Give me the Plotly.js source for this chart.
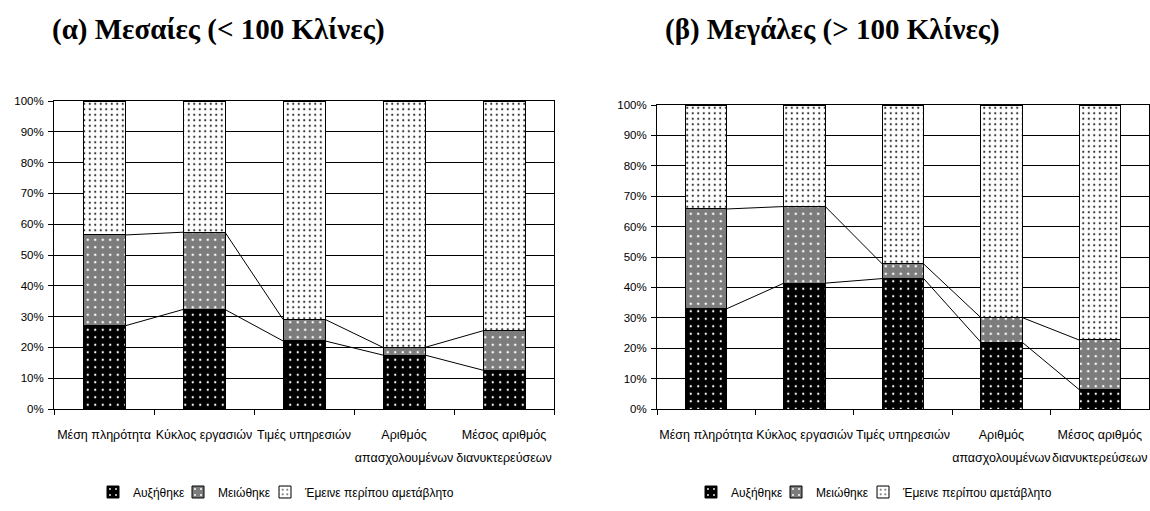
<!DOCTYPE html>
<html>
<head>
<meta charset="utf-8">
<script src="https://cdn.plot.ly/plotly-3.0.1.min.js"></script>
<style>
  html, body { margin: 0; padding: 0; background: #ffffff; }
  #chart { width: 1150px; height: 511px; }
</style>
</head>
<body>
<div id="chart"></div>
<script>
// Categories (shared by both panels)
const categories = [
  'Μέση πληρότητα',
  'Κύκλος εργασιών',
  'Τιμές υπηρεσιών',
  'Αριθμός<br>απασχολουμένων',
  'Μέσος αριθμός<br>διανυκτερεύσεων'
];

// Series names
const seriesNames = ['Αυξήθηκε', 'Μειώθηκε', 'Έμεινε περίπου αμετάβλητο'];

// (α) Medium hotels (< 100 beds), percent shares
const mediumIncreased = [27.0, 32.3, 22.1, 17.5, 12.6];
const mediumDecreased = [29.5, 25.1, 7.0, 2.5, 12.8];
const mediumUnchanged = [43.5, 42.6, 70.9, 80.0, 74.6];

// (β) Large hotels (> 100 beds), percent shares
const largeIncreased = [33.0, 41.4, 42.9, 22.0, 6.4];
const largeDecreased = [32.8, 25.2, 4.8, 8.1, 16.3];
const largeUnchanged = [34.2, 33.4, 52.3, 69.9, 77.3];

// Panel titles
const panelTitles = ['(α) Μεσαίες (< 100 Κλίνες)', '(β) Μεγάλες (> 100 Κλίνες)'];

// Fill styles for the three stacked segments
const fills = [
  { bg: '#000000', fg: '#ffffff', shape: '.', size: 7.5, solidity: 0.07 },
  { bg: '#7c7c7c', fg: '#ffffff', shape: '.', size: 7.5, solidity: 0.09 },
  { bg: '#ffffff', fg: '#333333', shape: '.', size: 5.5, solidity: 0.12 }
];

const BAR_WIDTH = 0.42;
const FONT = 'Liberation Sans, Arial, sans-serif';

// Page size and the plotting frame (bottom margin leaves room for the legends)
const W = 1150, H = 511, BOTTOM = 40;
const FH = H - BOTTOM;
const px = v => v / W;
const py = v => (FH - v) / FH;

// Left edge (px) of each legend entry, one entry per legend box
const legendLeft = [
  [93, 178, 265],    // panel (α)
  [691, 776, 863]    // panel (β)
];

function legendId(panel, k) {
  const n = panel * 3 + k + 1;
  return n === 1 ? 'legend' : 'legend' + n;
}

function barTraces(values, xa, ya, panel) {
  return values.map((vals, k) => ({
    type: 'bar',
    name: seriesNames[k],
    x: categories,
    y: vals,
    xaxis: xa,
    yaxis: ya,
    width: BAR_WIDTH,
    legend: legendId(panel, k),
    hoverinfo: 'skip',
    marker: {
      color: fills[k].bg,
      line: { color: '#000000', width: 1 },
      pattern: {
        shape: fills[k].shape,
        bgcolor: fills[k].bg,
        fgcolor: fills[k].fg,
        size: fills[k].size,
        solidity: fills[k].solidity,
        fillmode: 'replace'
      }
    }
  }));
}

// Series lines joining segment tops between neighbouring bars
function seriesLines(lower, middle, xa, ya) {
  const levels = [
    lower,
    lower.map((v, i) => v + middle[i])
  ];
  const half = BAR_WIDTH / 2;
  return levels.map(level => {
    const xs = [], ys = [];
    for (let i = 0; i < level.length - 1; i++) {
      xs.push(i + half, i + 1 - half, null);
      ys.push(level[i], level[i + 1], null);
    }
    return {
      type: 'scatter',
      mode: 'lines',
      x: xs,
      y: ys,
      xaxis: xa,
      yaxis: ya,
      showlegend: false,
      hoverinfo: 'skip',
      line: { color: '#000000', width: 1 }
    };
  });
}

const data = [
  ...barTraces([mediumIncreased, mediumDecreased, mediumUnchanged], 'x', 'y', 0),
  ...barTraces([largeIncreased, largeDecreased, largeUnchanged], 'x2', 'y2', 1),
  ...seriesLines(mediumIncreased, mediumDecreased, 'x3', 'y'),
  ...seriesLines(largeIncreased, largeDecreased, 'x4', 'y2')
];

// Two-line labels get a wider line pitch: the tick font sets the pitch,
// the inner span sets the glyph size.
const tickText = categories.map(c => '<span style="font-size:12.5px">' + c + '</span>');

function catAxis(domain, anchor) {
  return {
    domain: domain,
    anchor: anchor,
    type: 'category',
    range: [-0.5, 4.5],
    tickson: 'boundaries',
    tickmode: 'array',
    tickvals: categories,
    ticktext: tickText,
    tickangle: 0,
    ticks: 'outside',
    ticklen: 5,
    tickcolor: '#000000',
    tickwidth: 1,
    showgrid: false,
    showline: true,
    linecolor: '#000000',
    linewidth: 1,
    mirror: true,
    ticklabelstandoff: 9,
    tickfont: { family: FONT, size: 17, color: '#000000' },
    fixedrange: true
  };
}

function valAxis(domain, anchor) {
  return {
    domain: domain,
    anchor: anchor,
    range: [0, 100],
    dtick: 10,
    ticksuffix: '%',
    ticks: 'outside',
    ticklen: 5,
    tickcolor: '#000000',
    showgrid: true,
    gridcolor: '#000000',
    gridwidth: 1,
    zeroline: false,
    showline: true,
    linecolor: '#000000',
    linewidth: 1,
    mirror: true,
    ticklabelstandoff: 2,
    tickfont: { family: FONT, size: 11.5, color: '#000000' },
    fixedrange: true
  };
}

function overlayAxis(over, anchor) {
  return {
    overlaying: over,
    anchor: anchor,
    range: [-0.5, 4.5],
    visible: false,
    fixedrange: true
  };
}

function legendBox(left) {
  return {
    orientation: 'h',
    x: px(left),
    xanchor: 'left',
    y: py(492),
    yanchor: 'middle',
    itemwidth: 30,
    font: { family: FONT, size: 12, color: '#000000' },
    bgcolor: 'rgba(0,0,0,0)'
  };
}

const titleFont = { family: 'Liberation Serif, Times New Roman, serif', size: 29, color: '#000000' };

const layout = {
  width: W,
  height: H,
  margin: { l: 0, r: 0, t: 0, b: BOTTOM },
  paper_bgcolor: '#ffffff',
  plot_bgcolor: '#ffffff',
  barmode: 'stack',
  xaxis: catAxis([px(54), px(554)], 'y'),
  yaxis: valAxis([py(409), py(101)], 'x'),
  xaxis2: catAxis([px(657), px(1149)], 'y2'),
  yaxis2: valAxis([py(409), py(105)], 'x2'),
  xaxis3: overlayAxis('x', 'y'),
  xaxis4: overlayAxis('x2', 'y2'),
  annotations: [
    {
      text: '<b>' + panelTitles[0] + '</b>',
      xref: 'paper', yref: 'paper',
      x: px(218), y: py(30),
      xanchor: 'center', yanchor: 'middle',
      showarrow: false,
      font: titleFont
    },
    {
      text: '<b>' + panelTitles[1] + '</b>',
      xref: 'paper', yref: 'paper',
      x: px(833), y: py(30),
      xanchor: 'center', yanchor: 'middle',
      showarrow: false,
      font: titleFont
    }
  ]
};

legendLeft.forEach((row, panel) => {
  row.forEach((left, k) => {
    layout[legendId(panel, k)] = legendBox(left);
  });
});

Plotly.newPlot('chart', data, layout, { displayModeBar: false, staticPlot: true });
</script>
</body>
</html>
